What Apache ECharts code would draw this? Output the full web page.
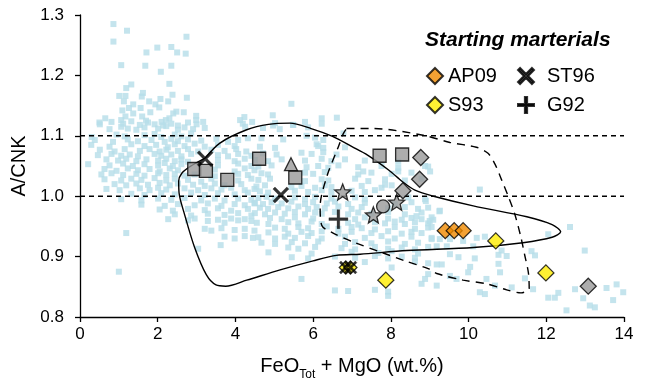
<!DOCTYPE html>
<html><head><meta charset="utf-8">
<script src="https://cdn.jsdelivr.net/npm/echarts@6/dist/echarts.min.js"></script>
<style>html,body{margin:0;padding:0;background:#fff}#c{width:646px;height:386px}</style>
</head><body><div id="c"></div>
<script>
// ---------- data ----------
const cloud = [
[0.86,1.285],[1.21,1.274],[2.74,1.264],[0.86,1.256],[1.99,1.246],[2.35,1.247],[1.71,1.238],[2.50,1.238],[2.72,1.236],[1.06,1.217],[1.68,1.216],[2.35,1.216],[2.08,1.206],[2.30,1.186],[1.32,1.185],[1.19,1.179],[1.01,1.166],[1.17,1.166],[1.59,1.165],[1.62,1.171],[2.38,1.168],[2.75,1.163],[1.13,1.157],[1.78,1.157],[2.07,1.161],[2.27,1.157],[1.94,1.152],[1.37,1.152],
[1.26,1.146],[1.56,1.146],[2.04,1.147],[1.09,1.142],[1.37,1.137],[1.81,1.139],[2.40,1.137],[2.48,1.140],[2.67,1.139],[1.17,1.132],[1.60,1.132],[0.65,1.129],[2.99,1.133],[2.99,1.126],[4.23,1.131],[4.12,1.126],[4.43,1.123],[0.50,1.122],[1.06,1.126],[1.70,1.125],[2.21,1.126],[2.30,1.129],[2.10,1.123],
[5.44,1.153],[4.96,1.134],[6.22,1.129],[6.61,1.130],[4.97,1.117],[4.25,1.115],[5.48,1.118],[5.83,1.100],[6.09,1.086],[6.26,1.080],[6.78,1.104],[8.88,1.050],
[0.51,1.119],[0.81,1.123],[1.11,1.120],[1.32,1.124],[1.54,1.118],[1.75,1.122],[1.92,1.119],[2.14,1.117],[2.35,1.120],[2.52,1.117],[2.78,1.122],[3.00,1.119],[3.17,1.123],[4.19,1.120],
[0.76,1.111],[1.06,1.115],[1.23,1.112],[1.45,1.110],[1.66,1.114],[2.01,1.112],[2.22,1.116],[2.52,1.110],[2.69,1.114],[2.91,1.111],[3.21,1.113],
[0.30,1.098],[0.94,1.102],[1.15,1.099],[1.66,1.101],[1.92,1.103],[2.09,1.098],[2.44,1.102],[2.61,1.099],[2.86,1.104],
[0.38,1.093],[0.85,1.090],[1.23,1.094],[1.49,1.091],[1.84,1.093],[2.18,1.090],[2.35,1.095],[2.52,1.091],[2.78,1.094],[3.12,1.092],[3.51,1.095],[3.81,1.090],[4.07,1.093],[4.32,1.096],
[0.29,1.085],[0.76,1.082],[1.32,1.086],[1.66,1.083],[1.96,1.085],[2.26,1.081],[2.44,1.086],[2.69,1.083],[2.95,1.087],[3.21,1.082],[3.55,1.085],[3.98,1.083],
[0.51,1.077],[0.89,1.074],[1.15,1.078],[1.54,1.075],[1.79,1.078],[2.05,1.074],[2.22,1.077],[2.52,1.075],[2.78,1.078],[3.04,1.074],[3.38,1.077],[3.72,1.075],[4.02,1.078],[4.28,1.074],
[0.46,1.068],[0.81,1.070],[1.06,1.067],[1.28,1.069],[1.49,1.066],[1.92,1.070],[2.09,1.067],[2.35,1.069],[2.61,1.066],[2.86,1.070],[3.55,1.068],[3.81,1.066],[4.07,1.070],[4.41,1.067],
[0.68,1.061],[0.98,1.059],[1.19,1.062],[1.45,1.058],[1.71,1.061],[2.01,1.059],[2.22,1.062],[2.44,1.058],[2.61,1.061],[2.78,1.057],[3.55,1.060],[3.98,1.058],[4.24,1.062],
[0.21,1.053],[0.76,1.051],[1.11,1.054],[1.36,1.050],[1.66,1.053],[2.01,1.051],[2.18,1.055],[2.39,1.050],[2.61,1.053],[3.55,1.051],[4.07,1.054],[4.41,1.050],
[0.63,1.045],[0.94,1.042],[1.23,1.046],[1.49,1.043],[1.79,1.045],[2.05,1.041],[2.31,1.046],[2.52,1.043],[3.47,1.044],[3.98,1.041],[4.24,1.046],[4.49,1.043],
[0.55,1.036],[0.81,1.038],[1.11,1.035],[1.45,1.037],[1.66,1.034],[2.01,1.038],[2.22,1.035],[2.44,1.037],[2.69,1.034],[2.95,1.036],[3.47,1.033],[4.07,1.037],[4.32,1.035],
[0.63,1.028],[1.06,1.026],[1.32,1.029],[1.58,1.027],[1.92,1.030],[2.22,1.026],[2.44,1.029],[2.78,1.027],[3.12,1.024],[3.38,1.029],[4.07,1.026],[4.41,1.029],
[0.89,1.020],[1.19,1.018],[1.45,1.021],[1.75,1.019],[2.05,1.022],[2.31,1.018],[2.52,1.021],[2.91,1.019],[3.21,1.017],[3.47,1.021],[3.72,1.018],[4.15,1.020],
[0.68,1.012],[1.02,1.010],[1.54,1.013],[1.79,1.010],[2.01,1.014],[2.22,1.011],[2.69,1.013],[3.04,1.010],[3.38,1.013],[3.64,1.011],[3.89,1.014],[4.24,1.010],[4.49,1.012],
[1.32,1.004],[1.66,1.002],[2.09,1.005],[2.44,1.003],[2.86,1.006],[3.21,1.002],[3.55,1.005],[3.98,1.003],[4.32,1.006],
[1.06,0.995],[1.58,0.993],[2.01,0.996],[2.35,0.994],[2.69,0.997],[3.12,0.993],[3.47,0.996],[3.72,0.993],[4.07,0.996],[4.41,0.994],
[1.58,0.986],[2.18,0.984],[2.52,0.987],[2.95,0.985],[3.29,0.988],[3.64,0.984],[3.98,0.987],[4.24,0.985],[4.49,0.988],
[2.05,0.978],[2.39,0.976],[2.78,0.979],[3.21,0.977],[3.55,0.980],[3.89,0.976],[4.32,0.979],
[2.44,0.970],[2.86,0.968],[3.29,0.971],[3.72,0.969],[4.07,0.972],[4.41,0.968],
[2.27,0.962],[2.78,0.960],[2.95,0.963],[3.29,0.959],[3.55,0.961],[3.72,0.956],[3.89,0.963],[4.07,0.960],[4.24,0.962],[4.41,0.959],
[3.21,0.946],[3.38,0.943],[3.64,0.947],[3.98,0.944],[4.24,0.946],[4.49,0.943],
[3.72,0.933],[3.98,0.930],[4.24,0.934],[4.45,0.931],
[3.04,0.913],[3.62,0.919],[1.19,0.939],[1.00,0.875],
[5.02,1.121],[5.49,1.118],[5.79,1.123],[6.22,1.120],
[4.71,1.113],[5.14,1.111],[5.87,1.114],
[4.67,1.096],[5.23,1.094],[6.05,1.097],[6.26,1.093],
[4.63,1.082],[5.02,1.080],[6.13,1.083],[6.82,1.081],
[4.71,1.071],[5.06,1.069],[5.70,1.072],[5.96,1.070],[6.26,1.073],[6.60,1.069],
[4.50,1.060],[4.84,1.058],[5.19,1.061],[5.79,1.059],[6.22,1.062],[6.47,1.058],[6.82,1.061],[7.33,1.059],[8.19,1.057],
[4.59,1.049],[4.93,1.051],[5.83,1.048],[6.13,1.050],[6.39,1.047],[6.65,1.051],[7.16,1.048],[7.76,1.050],[8.19,1.047],[8.96,1.049],
[4.67,1.038],[4.84,1.036],[5.79,1.039],[6.00,1.037],[6.30,1.040],[7.16,1.036],[7.50,1.039],[8.02,1.037],[8.53,1.039],
[4.59,1.027],[4.89,1.029],[5.79,1.025],[6.22,1.028],[6.39,1.026],[7.08,1.029],[7.42,1.025],[7.85,1.028],[8.36,1.026],[8.79,1.029],
[4.54,1.016],[4.76,1.018],[5.44,1.015],[5.70,1.017],[6.05,1.014],[6.30,1.018],[6.47,1.015],[7.25,1.017],[7.76,1.014],[8.02,1.018],
[4.63,1.008],[4.84,1.006],[5.53,1.009],[5.87,1.007],[6.22,1.010],[6.47,1.006],[6.99,1.009],[7.33,1.007],[7.59,1.010],
[4.59,0.997],[4.80,0.999],[5.02,0.996],[5.53,0.998],[5.79,0.995],[6.05,0.999],[6.47,0.996],[7.08,0.998],[7.33,0.995],[8.45,0.998],[8.88,0.995],
[4.50,0.989],[4.71,0.987],[4.93,0.990],[5.19,0.988],[5.44,0.991],[5.79,0.987],[6.00,0.990],[6.35,0.988],[6.56,0.991],[6.90,0.987],[7.33,0.989],[8.10,0.987],[8.53,0.990],
[4.63,0.981],[4.84,0.979],[5.10,0.982],[5.36,0.980],[5.62,0.983],[5.87,0.979],[6.09,0.982],[6.30,0.980],[6.65,0.983],[6.99,0.979],[7.25,0.982],[7.93,0.980],[8.36,0.982],[8.70,0.979],[8.96,0.981],
[4.50,0.972],[4.76,0.970],[5.02,0.973],[5.27,0.971],[5.53,0.974],[5.79,0.970],[6.05,0.973],[6.22,0.971],[6.56,0.974],[6.90,0.970],[7.16,0.973],[7.50,0.971],[7.93,0.974],[8.36,0.970],[8.79,0.973],
[4.89,0.964],[5.19,0.962],[5.53,0.965],[6.00,0.963],[7.08,0.962],[7.33,0.965],[7.93,0.963],[8.28,0.961],[8.53,0.964],[8.79,0.962],[9.05,0.965],
[4.55,0.956],[4.85,0.954],[5.36,0.957],[5.62,0.955],[5.96,0.958],[6.22,0.954],[6.90,0.956],[7.16,0.953],[7.59,0.957],[7.85,0.955],[8.10,0.958],[8.36,0.954],[8.62,0.957],[8.96,0.955],
[5.02,0.948],[5.27,0.946],[5.62,0.949],[5.87,0.947],[6.35,0.950],[6.65,0.946],[6.99,0.949],[7.25,0.947],[7.59,0.945],[8.10,0.949],[8.62,0.946],[8.96,0.948],
[4.85,0.940],[5.36,0.938],[5.70,0.941],[5.96,0.939],[6.22,0.942],[6.65,0.938],[6.99,0.941],[7.50,0.939],[7.93,0.942],[8.28,0.938],[8.53,0.941],[8.79,0.939],
[4.59,0.932],[5.02,0.930],[5.27,0.933],[5.53,0.931],[5.87,0.934],[6.22,0.930],[6.82,0.933],[7.33,0.931],[7.76,0.934],[8.10,0.930],[8.53,0.933],[9.05,0.931],
[4.67,0.923],[5.02,0.921],[5.45,0.924],[5.79,0.922],[6.13,0.925],[6.82,0.921],[7.08,0.924],[7.50,0.922],[7.93,0.925],[8.36,0.921],[8.70,0.923],
[5.36,0.915],[5.62,0.913],[6.05,0.916],[6.73,0.914],[7.08,0.912],[7.59,0.916],[7.93,0.913],[8.28,0.915],[8.62,0.912],[8.96,0.916],
[4.85,0.907],[5.96,0.905],[6.99,0.908],[7.68,0.906],[8.02,0.909],[8.70,0.905],
[5.45,0.899],[5.87,0.897],[6.56,0.900],[7.08,0.898],[7.59,0.901],[7.93,0.897],[8.28,0.900],[8.62,0.898],
[7.33,0.891],[8.62,0.892],[8.96,0.889],[8.02,0.882],[8.96,0.871],[5.70,0.863],[8.88,0.863],[8.79,0.855],[6.56,0.844],[6.90,0.843],[7.59,0.845],[7.93,0.842],[7.93,0.835],
[7.29,1.041],[8.19,1.041],[7.85,1.019],[8.90,0.992],[9.26,0.976],[8.66,0.967],[9.00,0.959],
[9.01,1.041],[10.29,1.011],[9.25,0.975],[9.09,0.961],[9.05,0.949],[12.61,0.949],[12.05,0.937],[10.21,0.931],[10.42,0.933],[9.05,0.929],[9.26,0.929],[9.52,0.929],[9.86,0.926],[10.12,0.917],[9.18,0.917],[9.44,0.917],
[12.99,0.910],[10.85,0.910],[10.77,0.903],[10.98,0.901],[11.71,0.902],[11.62,0.909],[9.74,0.899],[9.52,0.904],[10.16,0.897],[9.18,0.887],[9.31,0.887],[10.04,0.883],[10.77,0.888],[10.81,0.874],[9.52,0.868],[9.69,0.863],[10.46,0.863],[9.99,0.874],
[9.18,0.852],[10.68,0.852],[11.11,0.849],[11.45,0.864],[11.66,0.846],[12.74,0.846],[13.55,0.848],[13.81,0.854],[13.98,0.841],[10.42,0.838],[10.29,0.841],[12.05,0.832],[12.22,0.832],[12.31,0.840],[12.95,0.831],[13.72,0.828],[13.12,0.819],[13.25,0.816],[12.52,0.811]
];

const solidOutline = [[3.22,1.063],[3.60,1.088],[4.29,1.110],[4.85,1.119],[5.40,1.121],[5.95,1.112],[6.50,1.099],[7.00,1.082],[7.40,1.068],[7.95,1.043],[8.30,1.024],[8.62,1.010],[9.10,1.000],[10.12,0.984],[11.50,0.966],[12.15,0.953],[12.37,0.941],[12.15,0.932],[11.40,0.923],[10.12,0.915],[8.41,0.910],[7.21,0.904],[6.60,0.902],[6.00,0.893],[5.15,0.878],[4.29,0.861],[3.75,0.851],[3.50,0.853],[3.25,0.870],[2.95,0.915],[2.69,0.970],[2.55,1.005],[2.54,1.025],[2.62,1.038],[2.83,1.049],[3.22,1.063]];
const dashedOutline = [[6.86,1.112],[7.55,1.112],[8.83,1.101],[9.52,1.089],[10.20,1.081],[10.50,1.071],[10.68,1.053],[10.85,1.027],[11.02,1.000],[11.19,0.970],[11.34,0.934],[11.45,0.901],[11.54,0.873],[11.56,0.847],[11.35,0.840],[10.98,0.845],[10.46,0.855],[9.86,0.861],[9.18,0.872],[8.96,0.880],[8.36,0.893],[7.76,0.907],[7.08,0.923],[6.48,0.940],[6.22,0.952],[6.18,0.983],[6.35,1.032],[6.65,1.082],[6.78,1.104],[6.86,1.112]];
const refLevels = [1.1, 1.0];

const greySquares = [[2.94,1.045],[3.24,1.042],[3.79,1.027],[4.61,1.062],[5.54,1.031],[7.71,1.067],[8.29,1.069]];
const greyDiamonds = [[8.77,1.064],[8.74,1.028],[8.31,1.009],[13.08,0.851]];
const greyStars = [[6.76,1.007],[8.15,0.990],[7.55,0.969]];
const greyCircles = [[7.80,0.983]];
const greyTriangles = [[5.43,1.053]];
const ap09 = [[9.40,0.943],[9.63,0.943],[9.86,0.943]];
const s93 = [[6.84,0.882],[6.96,0.882],[7.87,0.861],[10.70,0.926],[11.99,0.873]];
const st96 = [[3.22,1.062],[5.17,1.002],[6.84,0.882],[6.96,0.882]];
const g92 = [[6.65,0.962]];

const xTitle = '{a|FeO}{s|Tot}{a| + MgO (wt.%)}';
const yTitle = 'A/CNK';
const legendTitle = 'Starting marterials';

// ---------- chart ----------
const FONT = '"Liberation Sans", Arial, Helvetica, sans-serif';
const X_PATH = 'path://M1.3,0L5,3.7L8.7,0L10,1.3L6.3,5L10,8.7L8.7,10L5,6.3L1.3,10L0,8.7L3.7,5L0,1.3Z';
const PLUS_PATH = 'path://M4.3,0H5.7V4.3H10V5.7H5.7V10H4.3V5.7H0V4.3H4.3Z';
const STAR_PATH = 'path://M50,0L62.9,32.2L97.6,34.5L70.9,56.8L79.4,90.5L50,72L20.6,90.5L29.1,56.8L2.4,34.5L37.1,32.2Z';
const grey = '#999999';
const mk = {borderColor:'#000', borderWidth:1.3};
const ink = {color:'#000', borderColor:'#000', borderWidth:0.35};

const chart = echarts.init(document.getElementById('c'), null, {renderer:'canvas'});
chart.setOption({
  animation:false,
  backgroundColor:'#fff',
  textStyle:{fontFamily:FONT},
  grid:{left:80, right:22, top:15, bottom:69, containLabel:false},
  title:{text:legendTitle, left:420, top:25, textStyle:{fontFamily:FONT, fontSize:21, fontWeight:'bold', fontStyle:'italic', color:'#000'}},
  legend:[
    {orient:'vertical', left:421, top:61, itemWidth:16, itemHeight:16, itemGap:9, data:['AP09','S93'],
     textStyle:{fontFamily:FONT, fontSize:20, color:'#000'}},
    {orient:'vertical', left:512, top:61, itemWidth:16, itemHeight:16, itemGap:9, data:['ST96','G92'],
     textStyle:{fontFamily:FONT, fontSize:20, color:'#000', padding:[0,0,0,8]}}
  ],
  xAxis:{type:'value', min:0, max:14, interval:2,
    name:xTitle, nameLocation:'middle', nameGap:34,
    nameTextStyle:{rich:{a:{fontFamily:FONT, fontSize:20, color:'#000', lineHeight:30, verticalAlign:'middle'},
                          s:{fontFamily:FONT, fontSize:12, color:'#000', lineHeight:30, verticalAlign:'bottom'}}},
    axisLine:{show:true, lineStyle:{color:'#000', width:1.3}},
    axisTick:{show:true, inside:false, length:5, lineStyle:{color:'#000', width:1.3}},
    axisLabel:{fontFamily:FONT, fontSize:17, color:'#000', margin:9},
    splitLine:{show:false}},
  yAxis:{type:'value', min:0.8, max:1.3, interval:0.1,
    name:yTitle, nameLocation:'middle', nameGap:47,
    nameTextStyle:{fontFamily:FONT, fontSize:20, color:'#000'},
    axisLine:{show:true, lineStyle:{color:'#000', width:1.3}},
    axisTick:{show:true, inside:false, length:5, lineStyle:{color:'#000', width:1.3}},
    axisLabel:{fontFamily:FONT, fontSize:17, color:'#000', margin:16, formatter:v=>v.toFixed(1)},
    splitLine:{show:false}},
  series:[
    {type:'scatter', name:'cloud', data:cloud, symbol:'rect', symbolSize:6, itemStyle:{color:'#b5dde8'}, silent:true, z:1},
    ...refLevels.map(v=>({type:'line', data:[[0,v],[14,v]], symbol:'none', lineStyle:{color:'#000', width:1.4, type:[5,4]}, silent:true, z:2})),
    {type:'line', data:solidOutline, symbol:'none', smooth:0.3, lineStyle:{color:'#000', width:1.4}, silent:true, z:2},
    {type:'line', data:dashedOutline, symbol:'none', smooth:0.3, lineStyle:{color:'#000', width:1.4, type:[8,6]}, silent:true, z:2},
    {type:'scatter', name:'grey squares', data:greySquares, symbol:'rect', symbolSize:13, itemStyle:Object.assign({color:grey}, mk), z:3},
    {type:'scatter', name:'grey diamonds', data:greyDiamonds, symbol:'diamond', symbolSize:16, itemStyle:Object.assign({color:grey}, mk), z:3},
    {type:'scatter', name:'grey stars', data:greyStars, symbol:STAR_PATH, symbolSize:16, itemStyle:Object.assign({color:grey}, mk), z:3},
    {type:'scatter', name:'grey circles', data:greyCircles, symbol:'circle', symbolSize:13, itemStyle:Object.assign({color:grey}, mk), z:3},
    {type:'scatter', name:'grey triangles', data:greyTriangles, symbol:'triangle', symbolSize:13, itemStyle:Object.assign({color:grey}, mk), z:3},
    {type:'scatter', name:'AP09', data:ap09, symbol:'diamond', symbolSize:16, itemStyle:Object.assign({color:'#f08a00'}, mk), z:4},
    {type:'scatter', name:'S93', data:s93, symbol:'diamond', symbolSize:(v)=> (v[0]<7 ? 13 : 16), itemStyle:Object.assign({color:'#ffee00'}, mk), z:4},
    {type:'scatter', name:'ST96', data:st96, symbol:X_PATH, symbolSize:(v)=> (v[1]<0.9 ? 13 : 16), itemStyle:ink, z:5},
    {type:'scatter', name:'G92', data:g92, symbol:PLUS_PATH, symbolSize:19, itemStyle:ink, z:5}
  ]
});
</script>
</body></html>
